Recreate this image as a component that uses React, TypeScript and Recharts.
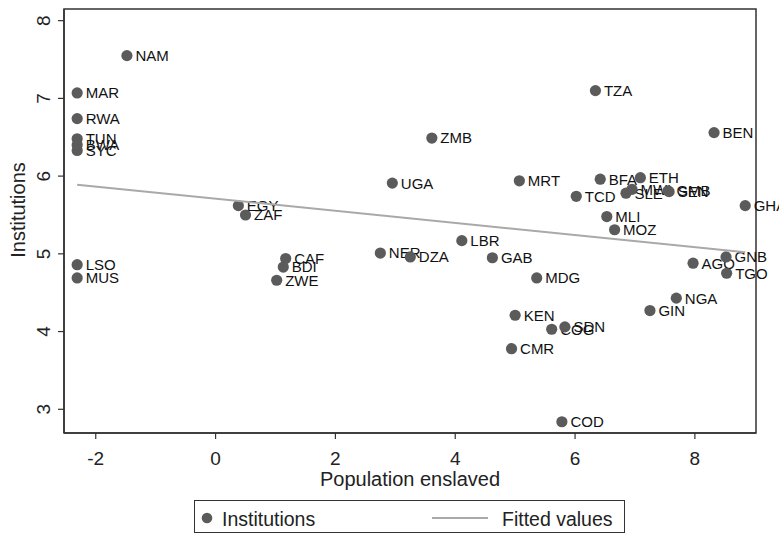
import React from "react";
import {
  ScatterChart,
  Scatter,
  XAxis,
  YAxis,
  ReferenceArea,
} from "recharts";

const countries = [
  "NAM", "MAR", "RWA", "TUN", "BWA", "SYC", "LSO", "MUS",
  "EGY", "ZAF", "CAF", "BDI", "ZWE", "ZMB", "UGA", "MRT",
  "TCD", "LBR", "NER", "DZA", "GAB", "MDG", "KEN", "COG",
  "SDN", "CMR", "COD", "GIN", "NGA", "AGO", "GNB", "TGO",
  "TZA", "BEN", "BFA", "ETH", "MLI", "MOZ", "GHA", "SLE",
  "MWI", "GMB", "SEN",
];

const enslaved = [
  -1.48, -2.31, -2.31, -2.31, -2.31, -2.31, -2.31, -2.31,
  0.38, 0.5, 1.17, 1.13, 1.02, 3.61, 2.95, 5.07,
  6.02, 4.11, 2.75, 3.25, 4.62, 5.36, 5.0, 5.61,
  5.83, 4.94, 5.78, 7.25, 7.69, 7.97, 8.52, 8.53,
  6.34, 8.32, 6.42, 7.09, 6.53, 6.66, 8.84, 6.85,
  6.95, 7.55, 7.57,
];

const institutions = [
  7.55, 7.07, 6.74, 6.48, 6.4, 6.33, 4.86, 4.69,
  5.62, 5.5, 4.94, 4.83, 4.66, 6.49, 5.91, 5.94,
  5.74, 5.17, 5.01, 4.96, 4.95, 4.69, 4.21, 4.03,
  4.06, 3.78, 2.84, 4.27, 4.43, 4.88, 4.96, 4.75,
  7.1, 6.56, 5.96, 5.98, 5.48, 5.31, 5.62, 5.78,
  5.83, 5.81, 5.8,
];

// fitted line endpoints
const fittedX = [-2.31, 8.84];
const fittedY = [5.89, 5.02];

const xTicks = [-2, 0, 2, 4, 6, 8];
const yTicks = [3, 4, 5, 6, 7, 8];
const xDomain = [-2.53, 9.02];
const yDomain = [2.695, 8.15];

const points = countries.map((code, i) => ({
  code,
  x: enslaved[i],
  y: institutions[i],
}));
const fitted = fittedX.map((x, i) => ({ x, y: fittedY[i] }));

const FONT = "'Liberation Sans', Arial, sans-serif";
const MARKER = "#5b5b5b";
const FIT = "#a9a9a9";
const AXIS = "#333333";

// eslint-disable-next-line @typescript-eslint/no-explicit-any
function LabeledDot(props: any) {
  const { cx, cy, payload } = props;
  return (
    <g>
      <circle cx={cx} cy={cy} r={5.6} fill={MARKER} />
      <text
        x={cx + 8.5}
        y={cy + 5.4}
        fontSize={15}
        fontFamily={FONT}
        fill="#111"
      >
        {payload.code}
      </text>
    </g>
  );
}

// eslint-disable-next-line @typescript-eslint/no-explicit-any
function XTick(props: any) {
  const { x, payload } = props;
  return (
    <text x={x} y={465} textAnchor="middle" fontSize={19} fontFamily={FONT} fill="#222">
      {payload.value}
    </text>
  );
}

// eslint-disable-next-line @typescript-eslint/no-explicit-any
function YTick(props: any) {
  const { y, payload } = props;
  return (
    <text
      x={50}
      y={y}
      textAnchor="middle"
      fontSize={19}
      fontFamily={FONT}
      fill="#222"
      transform={`rotate(-90, 50, ${y})`}
    >
      {payload.value}
    </text>
  );
}

// eslint-disable-next-line @typescript-eslint/no-explicit-any
function XTitle(props: any) {
  const { viewBox } = props;
  const cx = viewBox.x + viewBox.width / 2;
  return (
    <text x={cx} y={486} textAnchor="middle" fontSize={20} fontFamily={FONT} fill="#222">
      Population enslaved
    </text>
  );
}

function YTitle() {
  return (
    <text
      x={25}
      y={210}
      textAnchor="middle"
      fontSize={20}
      fontFamily={FONT}
      fill="#222"
      transform="rotate(-90, 25, 210)"
    >
      Institutions
    </text>
  );
}

function NoDot() {
  return <g />;
}

export default function App() {
  return (
    <div style={{ position: "absolute", left: 0, top: 0, width: 779, height: 536, background: "#fff" }}>
      <ScatterChart
        width={779}
        height={536}
        margin={{ top: 9, right: 23, bottom: 0, left: 0 }}
        style={{ overflow: "visible" }}
      >
        <XAxis
          type="number"
          dataKey="x"
          domain={xDomain}
          ticks={xTicks}
          height={103}
          tickSize={6}
          tick={<XTick />}
          axisLine={{ stroke: AXIS, strokeWidth: 1.5 }}
          tickLine={{ stroke: AXIS, strokeWidth: 1.2 }}
          label={<XTitle />}
        />
        <YAxis
          type="number"
          dataKey="y"
          domain={yDomain}
          ticks={yTicks}
          width={64}
          tickSize={6}
          tick={<YTick />}
          axisLine={{ stroke: AXIS, strokeWidth: 1.5 }}
          tickLine={{ stroke: AXIS, strokeWidth: 1.2 }}
          label={<YTitle />}
        />
        <ReferenceArea
          x1={xDomain[0]}
          x2={xDomain[1]}
          y1={yDomain[0]}
          y2={yDomain[1]}
          ifOverflow="visible"
          fill="none"
          stroke={AXIS}
          strokeWidth={1.5}
          fillOpacity={0}
        />
        <Scatter
          data={points}
          shape={<LabeledDot />}
          isAnimationActive={false}
        />
        <Scatter
          data={fitted}
          line={{ stroke: FIT, strokeWidth: 2 }}
          shape={<NoDot />}
          isAnimationActive={false}
        />
      </ScatterChart>
      <div
        style={{
          position: "absolute",
          left: 194,
          top: 500,
          width: 431,
          height: 33,
          border: "1px solid #333",
          boxSizing: "border-box",
        }}
      >
        <svg width={429} height={31} style={{ position: "absolute", left: 0, top: 0 }}>
          <circle cx={12} cy={17} r={5.3} fill={MARKER} />
          <text x={27} y={25} fontSize={19.5} fontFamily={FONT} fill="#222">
            Institutions
          </text>
          <line x1={237} x2={293} y1={17} y2={17} stroke={FIT} strokeWidth={2} />
          <text x={307} y={25} fontSize={19.5} fontFamily={FONT} fill="#222">
            Fitted values
          </text>
        </svg>
      </div>
    </div>
  );
}
